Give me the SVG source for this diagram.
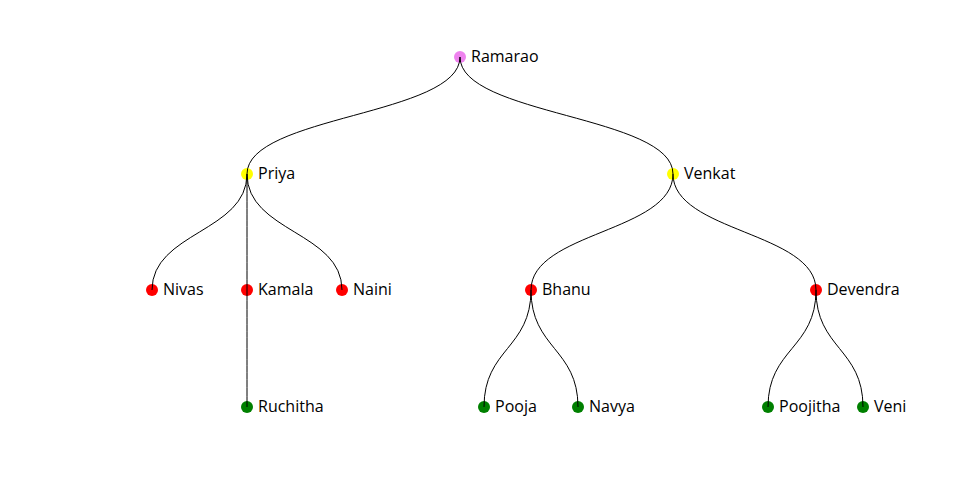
<svg xmlns="http://www.w3.org/2000/svg" width="960" height="500" viewBox="0 0 960 500">
<style>
.link{fill:none;stroke:#000;stroke-width:1}
.node text{font-family:"Open Sans",sans-serif;font-size:16px;fill:#000}
.l0{fill:violet}.l1{fill:yellow}.l2{fill:red}.l3{fill:green}
</style>
<rect width="960" height="500" fill="#fff"/>
<g id="n-ramarao" class="node"><circle class="l0" cx="460" cy="57" r="6"/><text x="471" y="62">Ramarao</text></g>
<g id="n-priya" class="node"><circle class="l1" cx="247" cy="174" r="6"/><text x="258" y="179">Priya</text></g>
<g id="n-venkat" class="node"><circle class="l1" cx="673" cy="174" r="6"/><text x="684" y="179">Venkat</text></g>
<g id="n-nivas" class="node"><circle class="l2" cx="152" cy="290" r="6"/><text x="163" y="295">Nivas</text></g>
<g id="n-kamala" class="node"><circle class="l2" cx="247" cy="290" r="6"/><text x="258" y="295">Kamala</text></g>
<g id="n-naini" class="node"><circle class="l2" cx="342" cy="290" r="6"/><text x="353" y="295">Naini</text></g>
<g id="n-bhanu" class="node"><circle class="l2" cx="531" cy="290" r="6"/><text x="542" y="295">Bhanu</text></g>
<g id="n-devendra" class="node"><circle class="l2" cx="816" cy="290" r="6"/><text x="827" y="295">Devendra</text></g>
<g id="n-ruchitha" class="node"><circle class="l3" cx="247" cy="407" r="6"/><text x="258" y="412">Ruchitha</text></g>
<g id="n-pooja" class="node"><circle class="l3" cx="484" cy="407" r="6"/><text x="495" y="412">Pooja</text></g>
<g id="n-navya" class="node"><circle class="l3" cx="578" cy="407" r="6"/><text x="589" y="412">Navya</text></g>
<g id="n-poojitha" class="node"><circle class="l3" cx="768" cy="407" r="6"/><text x="779" y="412">Poojitha</text></g>
<g id="n-veni" class="node"><circle class="l3" cx="863" cy="407" r="6"/><text x="874" y="412">Veni</text></g>
<g id="links">
<path class="link" d="M247,174C247,115.5 460,115.5 460,57"/>
<path class="link" d="M673,174C673,115.5 460,115.5 460,57"/>
<path class="link" d="M152,290C152,232 247,232 247,174"/>
<path class="link" d="M247,290C247,232 247,232 247,174"/>
<path class="link" d="M342,290C342,232 247,232 247,174"/>
<path class="link" d="M531,290C531,232 673,232 673,174"/>
<path class="link" d="M816,290C816,232 673,232 673,174"/>
<path class="link" d="M247,407C247,348.5 247,348.5 247,290"/>
<path class="link" d="M484,407C484,348.5 531,348.5 531,290"/>
<path class="link" d="M578,407C578,348.5 531,348.5 531,290"/>
<path class="link" d="M768,407C768,348.5 816,348.5 816,290"/>
<path class="link" d="M863,407C863,348.5 816,348.5 816,290"/>
</g>
</svg>
